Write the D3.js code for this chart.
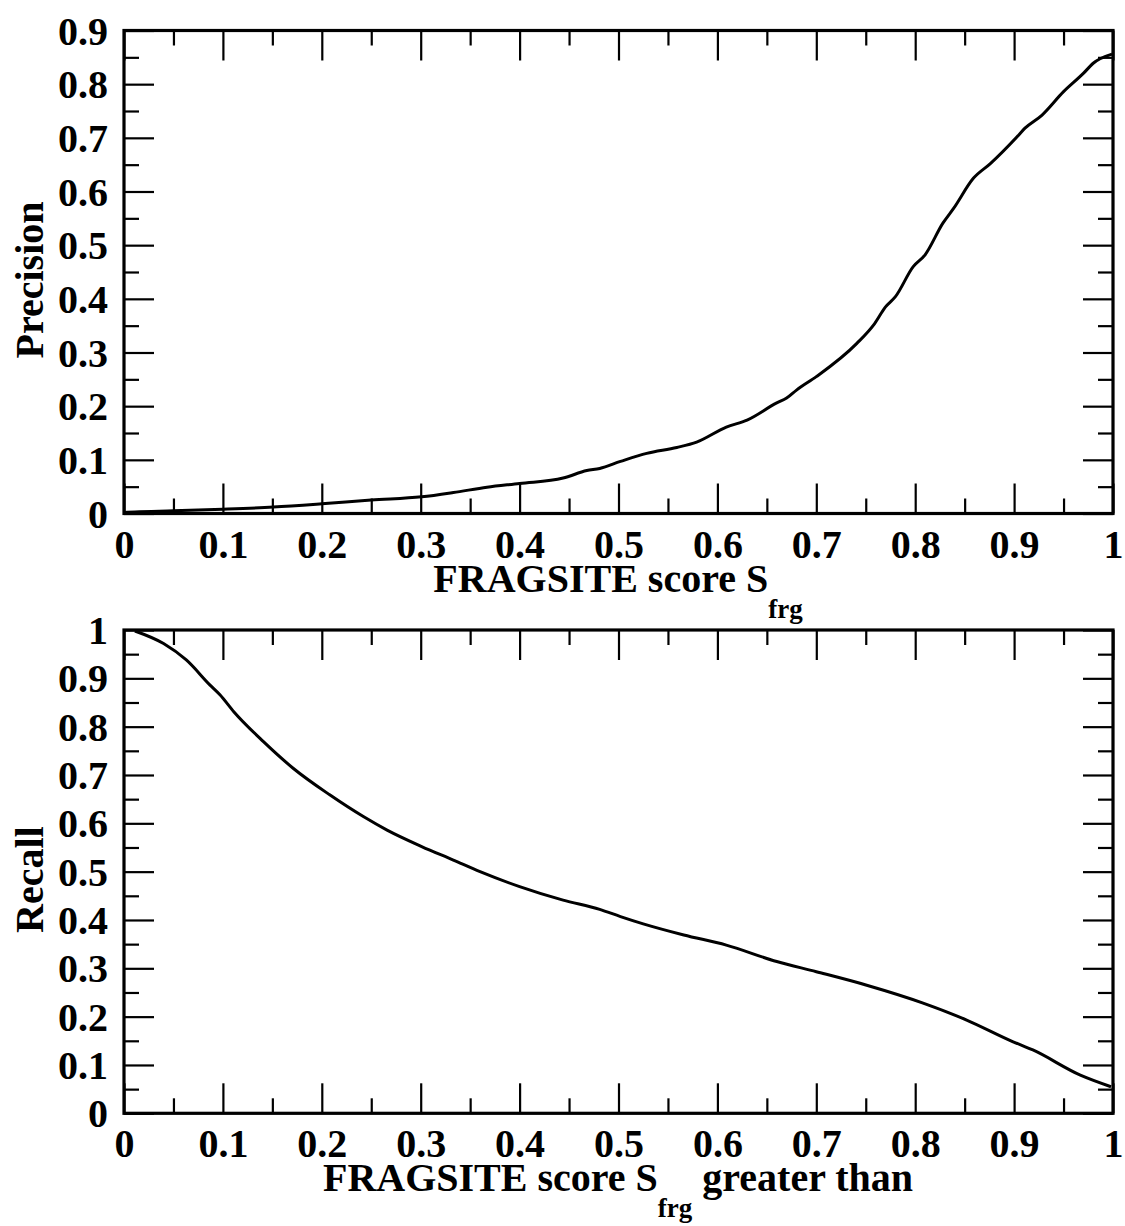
<!DOCTYPE html>
<html><head><meta charset="utf-8">
<script src="https://cdnjs.cloudflare.com/ajax/libs/d3/7.8.5/d3.min.js"></script>
<style>body{margin:0;background:#fff}svg{display:block}</style>
</head><body>
<script>
// ---- data ----
const precisionX = [0.0,0.011,0.05,0.1,0.151,0.2,0.25,0.301,0.333,0.367,0.4,0.444,0.468,0.481,0.502,0.5285,0.559,0.579,0.609,0.63,0.66,0.67,0.68,0.7,0.741,0.759,0.77,0.78,0.798,0.81,0.828,0.839,0.859,0.876,0.903,0.911,0.928,0.95,0.97,0.98,0.999];
const precisionY = [0.002,0.003,0.005,0.008,0.012,0.018,0.025,0.031,0.039,0.049,0.056,0.066,0.080,0.084,0.097,0.112,0.123,0.133,0.161,0.174,0.206,0.215,0.230,0.255,0.317,0.354,0.385,0.404,0.460,0.482,0.541,0.569,0.625,0.652,0.702,0.718,0.742,0.786,0.820,0.839,0.856];
const recallX = [0.011,0.04,0.063,0.087,0.097,0.111,0.141,0.171,0.208,0.242,0.266,0.301,0.333,0.36,0.4,0.444,0.481,0.502,0.525,0.566,0.609,0.66,0.7,0.751,0.808,0.852,0.899,0.919,0.967,0.998];
const recallY = [0.998,0.972,0.938,0.886,0.866,0.831,0.769,0.714,0.659,0.614,0.586,0.552,0.524,0.500,0.469,0.441,0.422,0.407,0.392,0.369,0.348,0.314,0.293,0.265,0.228,0.193,0.148,0.131,0.079,0.055];
const xTickLabels = ["0","0.1","0.2","0.3","0.4","0.5","0.6","0.7","0.8","0.9","1"];
const yTickLabelsTop = ["0","0.1","0.2","0.3","0.4","0.5","0.6","0.7","0.8","0.9"];
const yTickLabelsBottom = ["0","0.1","0.2","0.3","0.4","0.5","0.6","0.7","0.8","0.9","1"];
const titleTopY = "Precision";
const titleBottomY = "Recall";
const xTitleMain = "FRAGSITE score S";
const xTitleSub = "frg";
const xTitleTail = " greater than";

// ---- drawing ----
const W = 1125, H = 1226;
const FONT = "'Liberation Serif','Times New Roman',serif";
const FS = "40px";
const svg = d3.select("body").append("svg").attr("width", W).attr("height", H);

function panel(cfg) {
  const x = d3.scaleLinear().domain([0, 1]).range([124, 1113]);
  const y = d3.scaleLinear().domain([0, cfg.ymax]).range([cfg.bottom, cfg.top]);
  const g = svg.append("g");
  const xMaj = xTickLabels.map(Number);
  const xMin = d3.range(0.05, 1, 0.1);
  const yMaj = cfg.ylabels.map(Number);
  const yMin = d3.range(0.05, cfg.ymax, 0.1);

  function styleAxis(sel) {
    sel.select(".domain").remove();
    sel.selectAll(".tick line").attr("stroke", "#000").attr("stroke-width", 2.2);
  }
  const axB = g.append("g").attr("transform", `translate(0,${cfg.bottom})`)
    .call(d3.axisBottom(x).tickValues(xMaj).tickSize(-30).tickFormat((d, i) => xTickLabels[i]));
  styleAxis(axB);
  axB.selectAll("text").attr("dy", null).attr("y", 44)
    .style("font-family", FONT).style("font-weight", "bold").style("font-size", FS).attr("fill", "#000");
  g.append("g").attr("transform", `translate(0,${cfg.bottom})`)
    .call(d3.axisBottom(x).tickValues(xMin).tickSize(-15).tickFormat("")).call(styleAxis);
  g.append("g").attr("transform", `translate(0,${cfg.top})`)
    .call(d3.axisTop(x).tickValues(xMaj).tickSize(-30).tickFormat("")).call(styleAxis);
  g.append("g").attr("transform", `translate(0,${cfg.top})`)
    .call(d3.axisTop(x).tickValues(xMin).tickSize(-15).tickFormat("")).call(styleAxis);
  const axL = g.append("g").attr("transform", `translate(124,0)`)
    .call(d3.axisLeft(y).tickValues(yMaj).tickSize(-30).tickFormat((d, i) => cfg.ylabels[i]));
  styleAxis(axL);
  axL.selectAll("text").attr("x", -16).attr("dy", "0.34em")
    .style("font-family", FONT).style("font-weight", "bold").style("font-size", FS).attr("fill", "#000");
  g.append("g").attr("transform", `translate(124,0)`)
    .call(d3.axisLeft(y).tickValues(yMin).tickSize(-15).tickFormat("")).call(styleAxis);
  g.append("g").attr("transform", `translate(1113,0)`)
    .call(d3.axisRight(y).tickValues(yMaj).tickSize(-30).tickFormat("")).call(styleAxis);
  g.append("g").attr("transform", `translate(1113,0)`)
    .call(d3.axisRight(y).tickValues(yMin).tickSize(-15).tickFormat("")).call(styleAxis);
  g.append("rect").attr("x", 124).attr("y", cfg.top).attr("width", 989).attr("height", cfg.bottom - cfg.top)
    .attr("fill", "none").attr("stroke", "#000").attr("stroke-width", 3.2);
  const pts = cfg.xs.map((v, i) => [v, cfg.ys[i]]);
  g.append("path").datum(pts)
    .attr("d", d3.line().x(d => x(d[0])).y(d => y(d[1])).curve(d3.curveMonotoneX))
    .attr("fill", "none").attr("stroke", "#000").attr("stroke-width", 3);
  g.append("text").attr("transform", `translate(43,${(cfg.top + cfg.bottom) / 2 + 8}) rotate(-90)`)
    .attr("text-anchor", "middle").style("font-family", FONT).style("font-weight", "bold")
    .style("font-size", FS).text(cfg.ytitle);
  const t = g.append("text").attr("x", 618).attr("y", cfg.bottom + 78).attr("text-anchor", "middle")
    .style("font-family", FONT).style("font-weight", "bold").style("font-size", FS);
  t.append("tspan").text(xTitleMain);
  t.append("tspan").attr("dy", 26).style("font-size", "27px").text(xTitleSub);
  if (cfg.tail) t.append("tspan").attr("dy", -26).text(xTitleTail);
}

panel({ top: 30.5, bottom: 513.5, ymax: 0.9, ylabels: yTickLabelsTop, xs: precisionX, ys: precisionY, ytitle: titleTopY, tail: false });
panel({ top: 630, bottom: 1113.3, ymax: 1, ylabels: yTickLabelsBottom, xs: recallX, ys: recallY, ytitle: titleBottomY, tail: true });
</script>
</body></html>
